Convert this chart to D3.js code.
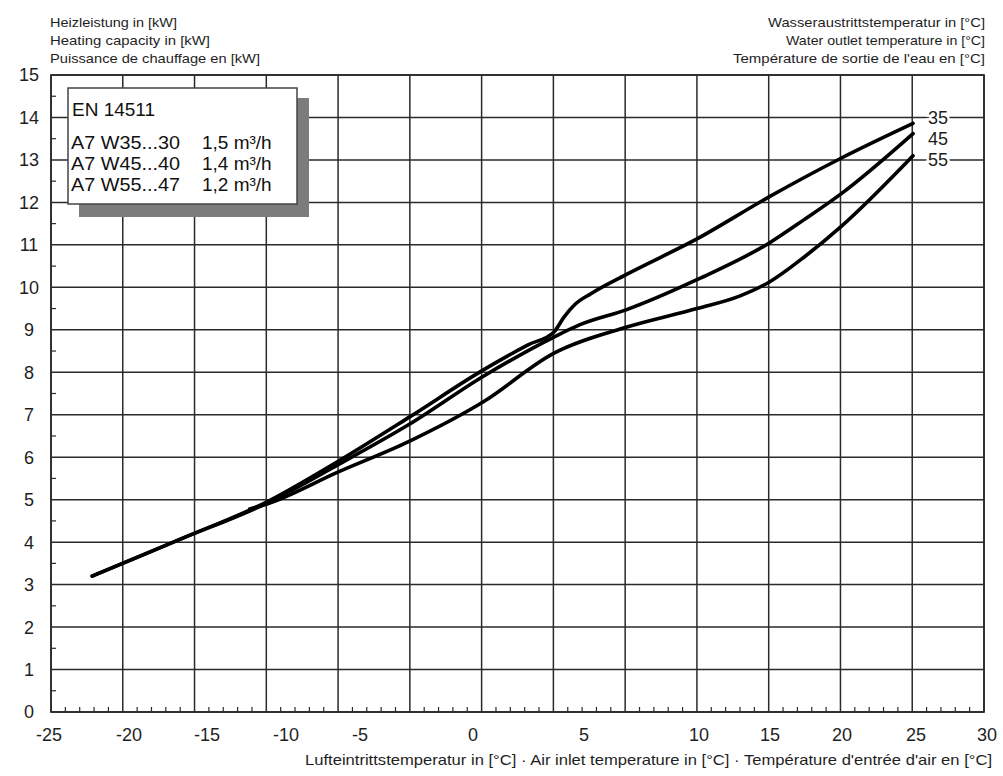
<!DOCTYPE html>
<html>
<head>
<meta charset="utf-8">
<script src="https://cdn.jsdelivr.net/npm/d3@7"></script>
<style>
  body { margin: 0; background: #fff; }
  svg { display: block; font-family: "Liberation Sans", Arial, sans-serif; }
</style>
</head>
<body>
<svg width="1003" height="776"></svg>
<script>
// tick labels of the air inlet axis (they are not evenly spaced in the original)
const xTicks = [-25, -20, -15, -10, -5, 0, 5, 10, 15, 20, 25, 30];
const yTicks = d3.range(0, 16);

// curves: air inlet temperature [°C] -> heating capacity [kW]
const temp35 = [-22.3, -20.4, -16.7, -11.2, -6.5, -2.8, 0.45, 2.5, 3.65, 4.1, 4.6, 5.3, 6.83, 9.91, 14.93, 19.93, 24.8];
const cap35 = [3.2, 3.5, 4.07, 4.95, 5.9, 6.95, 8.05, 8.65, 8.95, 9.3, 9.6, 9.85, 10.3, 11.14, 12.13, 13.04, 13.86];
const temp45 = [-22.3, -20.4, -16.7, -11.2, -6.5, -2.8, 0.45, 3.65, 4.82, 6.83, 9.91, 14.93, 17.4, 19.93, 24.8];
const cap45 = [3.2, 3.5, 4.07, 4.92, 5.82, 6.78, 7.9, 8.83, 9.12, 9.47, 10.18, 11.04, 11.6, 12.2, 13.62];
const temp55 = [-12.3, -11.2, -6.5, -2.8, 0.45, 3.65, 6.83, 9.91, 12.9, 14.93, 17.4, 19.93, 24.8];
const cap55 = [4.78, 4.9, 5.65, 6.38, 7.3, 8.45, 9.06, 9.5, 9.8, 10.12, 10.72, 11.43, 13.1];

const outletTemps = ["35", "45", "55"];
const legendTitle = "EN 14511";
const legendPoints = ["A7 W35...30", "A7 W45...40", "A7 W55...47"];
const legendFlows = ["1,5 m³/h", "1,4 m³/h", "1,2 m³/h"];

const yTitle = ["Heizleistung in [kW]", "Heating capacity in [kW]", "Puissance de chauffage en [kW]"];
const zTitle = ["Wasseraustrittstemperatur in [°C]", "Water outlet temperature in [°C]", "Température de sortie de l'eau en [°C]"];
const xTitle = "Lufteintrittstemperatur in [°C] · Air inlet temperature in [°C] · Température d'entrée d'air en [°C]";

const svg = d3.select("svg");
const plotLeft = 51, plotRight = 984, plotTop = 75, plotBottom = 712;
const gridCount = 13; // vertical grid intervals

// piecewise x scale, matches the label spacing of the original
const xScale = d3.scaleLinear()
    .domain(xTicks)
    .range([49, 129, 207, 286, 360, 473, 584, 699, 770, 842, 916, 987]);
const gridX = d3.scaleLinear().domain([0, gridCount]).range([plotLeft, plotRight]);
const yScale = d3.scaleLinear().domain([0, 15]).range([plotBottom, plotTop]);

const ink = "#2a2a2a";
const textCol = "#1e1e1e";

// grid
svg.append("g")
    .selectAll("line")
    .data(d3.range(0, gridCount + 1))
    .join("line")
    .attr("x1", d => gridX(d)).attr("x2", d => gridX(d))
    .attr("y1", plotTop).attr("y2", plotBottom)
    .attr("stroke", ink).attr("stroke-width", 1.5);

svg.append("g")
    .selectAll("line")
    .data(yTicks)
    .join("line")
    .attr("x1", plotLeft).attr("x2", plotRight)
    .attr("y1", d => yScale(d)).attr("y2", d => yScale(d))
    .attr("stroke", ink).attr("stroke-width", 1.5);

// minor ticks
svg.append("g")
    .selectAll("line")
    .data(d3.range(0, 15).map(d => d + 0.5))
    .join("line")
    .attr("x1", plotLeft).attr("x2", plotLeft + 5)
    .attr("y1", d => yScale(d)).attr("y2", d => yScale(d))
    .attr("stroke", ink).attr("stroke-width", 1.2);

svg.append("g")
    .selectAll("line")
    .data(d3.range(0, gridCount * 5).filter(d => d % 5 !== 0).map(d => d / 5))
    .join("line")
    .attr("x1", d => gridX(d)).attr("x2", d => gridX(d))
    .attr("y1", plotBottom).attr("y2", plotBottom - 5)
    .attr("stroke", ink).attr("stroke-width", 1.2);

// tick labels
svg.append("g")
    .selectAll("text")
    .data(yTicks)
    .join("text")
    .attr("x", 29).attr("y", d => yScale(d))
    .attr("dy", "0.36em")
    .attr("text-anchor", "middle")
    .attr("font-size", 18)
    .attr("fill", textCol)
    .text(d => d);

svg.append("g")
    .selectAll("text")
    .data(xTicks)
    .join("text")
    .attr("x", d => xScale(d)).attr("y", 735)
    .attr("dy", "0.36em")
    .attr("text-anchor", "middle")
    .attr("font-size", 18)
    .attr("fill", textCol)
    .text(d => d);

// titles (the scan is a little wider than the font, so fix the lengths)
const yTitleLen = [127, 160, 210];
svg.append("g")
    .selectAll("text")
    .data(yTitle)
    .join("text")
    .attr("x", 50).attr("y", (d, i) => 27 + i * 18)
    .attr("font-size", 13.5)
    .attr("textLength", (d, i) => yTitleLen[i])
    .attr("lengthAdjust", "spacingAndGlyphs")
    .attr("fill", textCol)
    .text(d => d);

const zTitleLen = [217, 199, 252];
svg.append("g")
    .selectAll("text")
    .data(zTitle)
    .join("text")
    .attr("x", 985).attr("y", (d, i) => 27 + i * 18)
    .attr("text-anchor", "end")
    .attr("font-size", 13.5)
    .attr("textLength", (d, i) => zTitleLen[i])
    .attr("lengthAdjust", "spacingAndGlyphs")
    .attr("fill", textCol)
    .text(d => d);

svg.append("text")
    .attr("x", 992).attr("y", 765)
    .attr("text-anchor", "end")
    .attr("font-size", 15)
    .attr("textLength", 687)
    .attr("lengthAdjust", "spacingAndGlyphs")
    .attr("fill", textCol)
    .text(xTitle);

// plot frame
svg.append("rect")
    .attr("x", plotLeft).attr("y", plotTop)
    .attr("width", plotRight - plotLeft).attr("height", plotBottom - plotTop)
    .attr("fill", "none").attr("stroke", ink).attr("stroke-width", 1.7);

// legend box with shadow
const lg = svg.append("g");
lg.append("rect")
    .attr("x", 79).attr("y", 98).attr("width", 230).attr("height", 119)
    .attr("fill", "#7c7c7c");
lg.append("rect")
    .attr("x", 68).attr("y", 88).attr("width", 229).attr("height", 116)
    .attr("fill", "#fff").attr("stroke", "#444").attr("stroke-width", 1.5);
lg.append("text")
    .attr("x", 72).attr("y", 116)
    .attr("font-size", 19).attr("fill", "#111")
    .text(legendTitle);
lg.selectAll("text.pt")
    .data(legendPoints)
    .join("text").attr("class", "pt")
    .attr("x", 71).attr("y", (d, i) => 149 + i * 21)
    .attr("font-size", 19).attr("fill", "#111")
    .attr("textLength", 109).attr("lengthAdjust", "spacingAndGlyphs")
    .text(d => d);
lg.selectAll("text.fl")
    .data(legendFlows)
    .join("text").attr("class", "fl")
    .attr("x", 202).attr("y", (d, i) => 149 + i * 21)
    .attr("font-size", 19).attr("fill", "#111")
    .text(d => d);

// curves
const series = [
    { t: temp35, c: cap35 },
    { t: temp45, c: cap45 },
    { t: temp55, c: cap55 }
];
const line = d3.line()
    .x(d => xScale(d[0]))
    .y(d => yScale(d[1]))
    .curve(d3.curveMonotoneX);

svg.append("g")
    .selectAll("path")
    .data(series)
    .join("path")
    .attr("d", s => line(s.t.map((t, i) => [t, s.c[i]])))
    .attr("fill", "none")
    .attr("stroke", "#000")
    .attr("stroke-width", 3.6)
    .attr("stroke-linecap", "round")
    .attr("stroke-linejoin", "round");

// outlet temperature labels at the curve ends
svg.append("g")
    .selectAll("text")
    .data(outletTemps)
    .join("text")
    .attr("x", 938).attr("y", (d, i) => yScale(14 - i * 0.5))
    .attr("dy", "0.36em")
    .attr("text-anchor", "middle")
    .attr("font-size", 18)
    .attr("fill", textCol)
    .attr("stroke", "#fff").attr("stroke-width", 5)
    .attr("paint-order", "stroke")
    .text(d => d);
</script>
</body>
</html>
